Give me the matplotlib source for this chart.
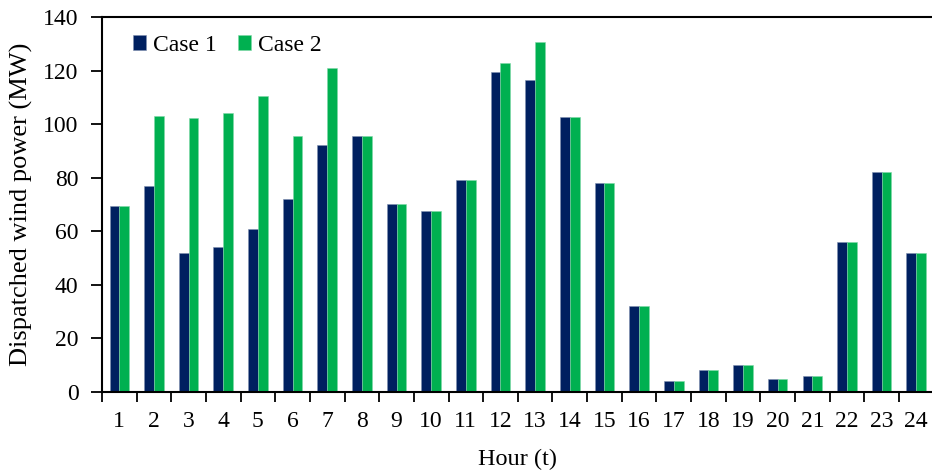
import numpy as np
import matplotlib
matplotlib.use("Agg")
import matplotlib.pyplot as plt

# DATA
hours = [str(h) for h in range(1, 25)]
case_1 = [69.5, 77, 52, 54.2, 60.7, 72.2, 92.4, 95.6, 70.2, 67.6, 79.3, 119.6,
          116.6, 102.5, 78, 32.1, 4.1, 8.1, 10, 5, 6, 56, 82, 52]
case_2 = [69.5, 103.2, 102.2, 104.3, 110.6, 95.6, 120.8, 95.6, 70.2, 67.6, 79.3, 122.9,
          130.7, 102.5, 78, 32.1, 4.1, 8.1, 10, 5, 6, 56, 82, 52]

# STYLE
plt.rcParams['font.family'] = ['Liberation Serif', 'DejaVu Serif']
plt.rcParams['font.size'] = 17
navy = '#002060'
green = '#00B050'

fig = plt.figure(figsize=(9.32, 4.74), dpi=100)
ax = fig.add_axes([102 / 932, 82 / 474, 831.6 / 932, 375 / 474])

x_pos = np.arange(len(hours))
bar_w = 0.283
ax.bar(x_pos - bar_w / 2, case_1, width=bar_w, color=navy, edgecolor='#8090b0',
       linewidth=0.4, label='Case 1')
ax.bar(x_pos + bar_w / 2, case_2, width=bar_w, color=green, edgecolor='#80d8a8',
       linewidth=0.4, label='Case 2')

ax.set_xlim(-0.5, len(hours) - 0.5)
ax.set_ylim(0, 140)
ax.set_yticks(np.arange(0, 141, 20))

# labels at the centres, tick marks between hours
ax.set_xticks(x_pos)
ax.set_xticklabels(hours)
ax.set_xticks(np.arange(-0.5, len(hours), 1), minor=True)
ax.tick_params(axis='x', which='major', length=0, pad=14)
ax.tick_params(axis='x', which='minor', length=7, width=1.3, direction='out')
ax.tick_params(axis='y', length=8, width=1.3, direction='out', pad=9)

for side in ['left', 'bottom', 'top']:
    ax.spines[side].set_linewidth(1.5)
ax.spines['right'].set_visible(False)

ax.set_xlabel('Hour (t)', fontsize=17.5, labelpad=12)
ax.set_ylabel('Dispatched wind power (MW)', fontsize=19, labelpad=7)

ax.legend(loc='upper left', bbox_to_anchor=(0.02, 0.99), ncol=2, frameon=False,
          handlelength=0.55, handleheight=0.55, handletextpad=0.3,
          columnspacing=0.9, borderaxespad=0.2)

fig.savefig('out.png', dpi=100)
